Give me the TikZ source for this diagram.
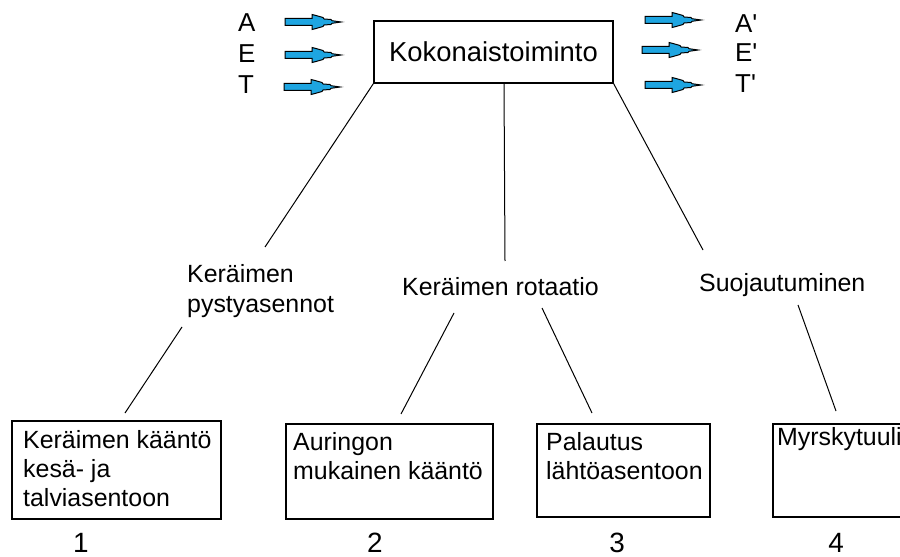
\documentclass[tikz,border=0pt]{standalone}
\usepackage{fontspec}
\setmainfont{Liberation Sans}
\definecolor{flowblue}{RGB}{30,165,225}
\begin{document}
\begin{tikzpicture}[x=1bp,y=-1bp,
  box/.style={draw, line width=1.2bp, inner sep=0pt, rectangle},
  conn/.style={line width=1bp},
  txt/.style={inner sep=0pt, anchor=base west, font=\fontsize{25}{29.5}\selectfont},
  num/.style={inner sep=0pt, anchor=base, font=\fontsize{28}{32}\selectfont},
  aet/.style={inner sep=0pt, anchor=base west, font=\fontsize{26}{30}\selectfont},
  pics/flowarrow/.style={code={
    \draw[fill=flowblue, line width=1bp, line join=miter]
      (0,3.5) -- (27,3.5) -- (27,7.5) -- (31,6.5) -- (38,4.5) -- (39,3) -- (46,2.5)
      -- (47,1.3) -- (56,0) -- (47,-1.3) -- (46,-2.5) -- (39,-3) -- (38,-4.5)
      -- (31,-6.5) -- (27,-7.5) -- (27,-3.5) -- (0,-3.5) -- cycle;
  }}
]
\useasboundingbox (0,0) rectangle (900,557);

% main function box
\node[box, minimum width=239bp, minimum height=62bp,
      font=\fontsize{27.5}{32}\selectfont] (top) at (493.5,52) {Kokonaistoiminto};

% inputs
\node[aet] (inA) at (238,32) {A};
\node[aet] (inE) at (238,63) {E};
\node[aet] (inT) at (238,94) {T};
\pic at (285,22) {flowarrow};
\pic at (285,55) {flowarrow};
\pic at (284,87) {flowarrow};

% outputs
\pic at (645,20) {flowarrow};
\pic at (642,50) {flowarrow};
\pic at (645,85) {flowarrow};
\node[aet] (outA) at (735,33) {A\textquotesingle};
\node[aet] (outE) at (735,62) {E\textquotesingle};
\node[aet] (outT) at (735,93) {T\textquotesingle};

% sub-function labels
\node[txt] (pysty) at (187,283) {\begin{tabular}[t]{@{}l@{}}Keräimen\\pystyasennot\end{tabular}};
\node[txt] (rot) at (402,296) {Keräimen rotaatio};
\node[txt] (suoja) at (699,292) {Suojautuminen};

% leaf boxes
\node[box, minimum width=209bp, minimum height=98bp] (b1) at (116.5,470) {};
\node[box, minimum width=207bp, minimum height=95bp] (b2) at (389.5,471.5) {};
\node[box, minimum width=173bp, minimum height=93bp] (b3) at (623.5,470.5) {};
\node[box, minimum width=137bp, minimum height=93bp] (b4) at (841.5,470.5) {};

\node[txt] (t1) at (23,448) {\begin{tabular}[t]{@{}l@{}}Keräimen kääntö\\kesä- ja\\talviasentoon\end{tabular}};
\node[txt] (t2) at (293,450) {\begin{tabular}[t]{@{}l@{}}Auringon\\mukainen kääntö\end{tabular}};
\node[txt] (t3) at (546,450) {\begin{tabular}[t]{@{}l@{}}Palautus\\lähtöasentoon\end{tabular}};
\node[txt] (t4) at (777,445) {Myrskytuuli};

\node[num] (n1) at (81,552) {1};
\node[num] (n2) at (375,552) {2};
\node[num] (n3) at (617,552) {3};
\node[num] (n4) at (836,552) {4};

% connector ends
\coordinate (topmid) at (504,83);
\coordinate (pystyup) at (265,247);
\coordinate (rotup) at (505,261);
\coordinate (suojaup) at (703,250);
\coordinate (pystydn) at (182,327);
\coordinate (b1up) at (125,413);
\coordinate (rotdnl) at (454,313);
\coordinate (b2up) at (401,414);
\coordinate (rotdnr) at (542,308);
\coordinate (b3up) at (592,413);
\coordinate (suojadn) at (798,305);
\coordinate (b4up) at (836,411);

\draw[conn] (top.south west) -- (pystyup);
\draw[conn] (topmid) -- (rotup);
\draw[conn] (top.south east) -- (suojaup);
\draw[conn] (pystydn) -- (b1up);
\draw[conn] (rotdnl) -- (b2up);
\draw[conn] (rotdnr) -- (b3up);
\draw[conn] (suojadn) -- (b4up);
\end{tikzpicture}
\end{document}
